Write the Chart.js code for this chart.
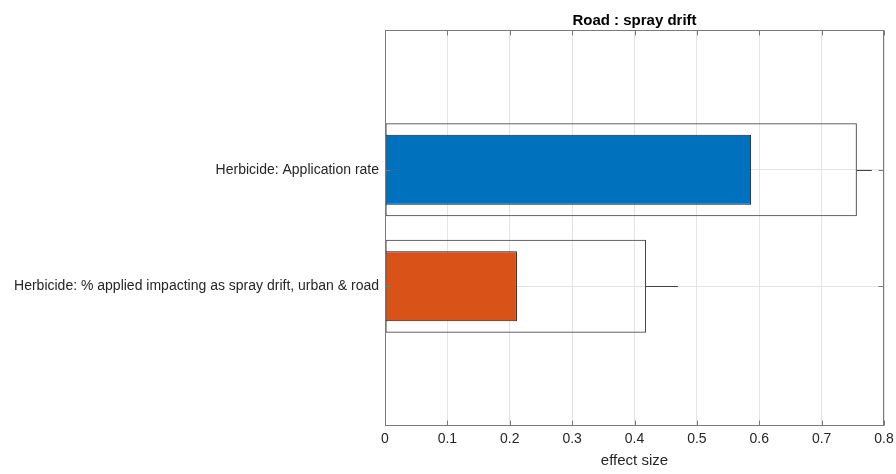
<!DOCTYPE html>
<html><head><meta charset="utf-8">
<script src="https://cdn.jsdelivr.net/npm/chart.js@4"></script>
<style>html,body{margin:0;padding:0;background:#fff}#wrap{width:896px;height:474px}</style>
</head><body><div id="wrap"><canvas id="c" width="896" height="474"></canvas></div>
<script>
const categories = ['Herbicide: Application rate', 'Herbicide: % applied impacting as spray drift, urban & road'];
const positions = [1, 2];
const effectValues = [0.587, 0.2115];
const totalValues = [0.7565, 0.4185];
const errorValues = [0.024, 0.051];
const barColors = ['#0072BD', '#D95319'];
const xTicks = [0, 0.1, 0.2, 0.3, 0.4, 0.5, 0.6, 0.7, 0.8];
const titleText = 'Road : spray drift';
const xLabel = 'effect size';

const FONT = '"Liberation Sans", Arial, Helvetica, sans-serif';
const AXIS = '#7a7a7a';

const framePlugin = {
  id: 'frame',
  afterDatasetsDraw(chart) {
    const {ctx, chartArea: a, scales: {x, y}} = chart;
    ctx.save();
    ctx.strokeStyle = '#404040';
    ctx.lineWidth = 1;
    totalValues.forEach((v, i) => {
      const py = Math.round(y.getPixelForValue(positions[i])) + 0.5;
      ctx.beginPath();
      ctx.moveTo(x.getPixelForValue(v), py);
      ctx.lineTo(x.getPixelForValue(v + errorValues[i]), py);
      ctx.stroke();
    });
    ctx.strokeStyle = AXIS;
    const L = a.left + 0.5, R = a.right - 0.5, T = a.top + 0.5, B = a.bottom - 0.5;
    ctx.strokeRect(L, T, R - L, B - T);
    const tl = 5;
    ctx.beginPath();
    xTicks.forEach(t => {
      const px = Math.round(x.getPixelForValue(t)) + 0.5;
      ctx.moveTo(px, B); ctx.lineTo(px, B - tl);
      ctx.moveTo(px, T); ctx.lineTo(px, T + tl);
    });
    positions.forEach(p => {
      const py = Math.round(y.getPixelForValue(p)) + 0.5;
      ctx.moveTo(L, py); ctx.lineTo(L + tl, py);
      ctx.moveTo(R, py); ctx.lineTo(R - tl, py);
    });
    ctx.stroke();
    ctx.fillStyle = '#000';
    ctx.font = 'bold 15px ' + FONT;
    ctx.textAlign = 'center';
    ctx.textBaseline = 'alphabetic';
    ctx.fillText(titleText, (a.left + a.right) / 2, 24.5);
    ctx.restore();
  }
};

new Chart(document.getElementById('c'), {
  type: 'bar',
  data: {
    datasets: [
      {
        data: positions.map((p, i) => ({x: effectValues[i], y: p})),
        backgroundColor: barColors,
        borderColor: '#1a1a1a',
        borderWidth: 1,
        borderSkipped: false,
        grouped: false,
        categoryPercentage: 1,
        barPercentage: 0.6
      },
      {
        data: positions.map((p, i) => ({x: totalValues[i], y: p})),
        backgroundColor: 'rgba(0,0,0,0)',
        borderColor: '#404040',
        borderWidth: 1,
        borderSkipped: false,
        grouped: false,
        categoryPercentage: 1,
        barPercentage: 0.8
      }
    ]
  },
  options: {
    indexAxis: 'y',
    responsive: false,
    devicePixelRatio: 1,
    animation: false,
    layout: {padding: {top: 30, right: 12, left: 0, bottom: 0}},
    plugins: {legend: {display: false}, tooltip: {enabled: false}, title: {display: false}},
    scales: {
      x: {
        type: 'linear',
        position: 'bottom',
        min: 0, max: 0.8,
        offset: false,
        afterBuildTicks: s => { s.ticks = xTicks.map(v => ({value: v})); },
        afterFit: s => { s.height = 48; s.paddingLeft = 0; s.paddingRight = 0; },
        grid: {color: '#e4e4e4', drawTicks: false, offset: false},
        border: {display: false},
        ticks: {
          padding: 5,
          color: '#262626',
          font: {family: FONT, size: 14},
          callback: v => String(+v.toFixed(1))
        },
        title: {
          display: true, text: xLabel, color: '#262626',
          font: {family: FONT, size: 15},
          padding: {top: 0, bottom: 4}
        }
      },
      y: {
        type: 'linear',
        position: 'left',
        min: -0.2, max: 3.2,
        reverse: true,
        offset: false,
        afterBuildTicks: s => { s.ticks = positions.map(v => ({value: v})); },
        afterFit: s => { s.width = 385; s.paddingTop = 0; s.paddingBottom = 0; },
        grid: {color: '#e4e4e4', drawTicks: false, offset: false},
        border: {display: false},
        ticks: {
          padding: 6,
          color: '#262626',
          font: {family: FONT, size: 14},
          autoSkip: false,
          callback: v => categories[positions.indexOf(v)] || ''
        }
      }
    }
  },
  plugins: [framePlugin]
});
</script>
</body></html>
